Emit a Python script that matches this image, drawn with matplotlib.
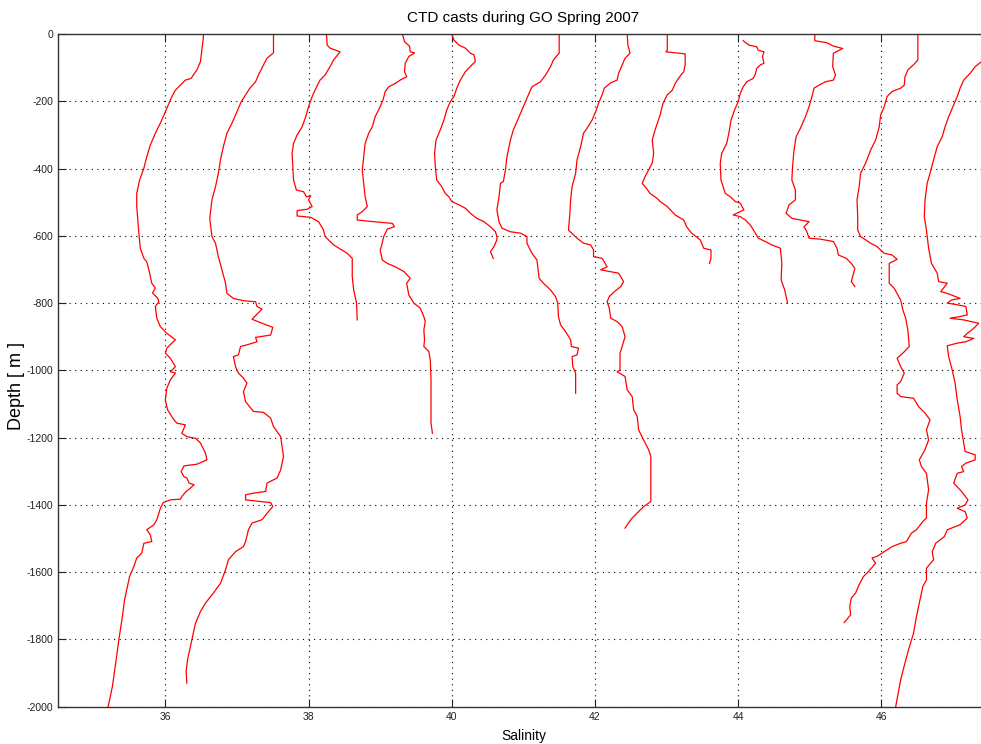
import numpy as np
import matplotlib
matplotlib.use('Agg')
import matplotlib.pyplot as plt
from matplotlib.pyplot import MultipleLocator

# CTD casts, (salinity, depth) pairs
cast1 = [(36.53,0),(36.53,-12),(36.49,-82),(36.44,-107),(36.39,-122),(36.36,-132),(36.28,-137),(36.21,-152),(36.14,-167),(36.09,-186),(36.05,-206),(36.00,-231),(35.93,-265),(35.86,-295),(35.79,-330),(35.74,-365),(35.70,-399),(35.64,-434),(35.60,-474),(35.60,-513),(35.63,-592),(35.65,-637),(35.70,-667),(35.74,-677),(35.77,-701),(35.81,-741),(35.86,-755),(35.82,-770),(35.89,-785),(35.91,-796),(35.86,-810),(35.88,-845),(35.93,-870),(36.02,-890),(36.14,-909),(36.02,-934),(36.00,-949),(36.07,-964),(36.14,-989),(36.07,-1004),(36.14,-1008),(36.07,-1028),(36.02,-1053),(36.00,-1088),(36.03,-1117),(36.12,-1147),(36.16,-1157),(36.28,-1162),(36.23,-1187),(36.30,-1197),(36.42,-1202),(36.49,-1216),(36.56,-1246),(36.58,-1266),(36.44,-1279),(36.26,-1284),(36.22,-1301),(36.26,-1316),(36.30,-1320),(36.33,-1335),(36.40,-1340),(36.35,-1350),(36.29,-1360),(36.23,-1375),(36.21,-1383),(36.07,-1385),(35.97,-1393),(35.93,-1410),(35.91,-1424),(35.88,-1444),(35.84,-1459),(35.74,-1474),(35.79,-1489),(35.81,-1509),(35.70,-1514),(35.67,-1543),(35.60,-1558),(35.56,-1583),(35.50,-1613),(35.47,-1643),(35.43,-1682),(35.40,-1732),(35.35,-1801),(35.30,-1880),(35.26,-1940),(35.20,-2000)]
cast2 = [(37.51,0),(37.51,-56),(37.42,-72),(37.37,-92),(37.30,-122),(37.26,-142),(37.18,-161),(37.12,-181),(37.06,-201),(37.00,-231),(36.93,-265),(36.86,-295),(36.81,-335),(36.77,-374),(36.74,-414),(36.70,-454),(36.65,-493),(36.62,-548),(36.65,-602),(36.70,-622),(36.74,-662),(36.79,-701),(36.84,-741),(36.86,-771),(36.95,-786),(37.09,-793),(37.26,-796),(37.28,-810),(37.35,-818),(37.21,-848),(37.35,-860),(37.50,-872),(37.47,-895),(37.26,-902),(37.28,-915),(37.14,-924),(37.05,-929),(37.02,-954),(36.95,-959),(36.98,-989),(37.02,-1008),(37.09,-1023),(37.14,-1038),(37.09,-1063),(37.12,-1093),(37.23,-1122),(37.37,-1125),(37.47,-1142),(37.51,-1167),(37.61,-1197),(37.63,-1227),(37.65,-1256),(37.61,-1296),(37.56,-1320),(37.42,-1335),(37.40,-1360),(37.23,-1365),(37.12,-1370),(37.12,-1385),(37.33,-1390),(37.47,-1393),(37.50,-1405),(37.42,-1425),(37.35,-1444),(37.21,-1454),(37.16,-1474),(37.12,-1509),(37.09,-1524),(36.98,-1539),(36.88,-1563),(36.84,-1593),(36.77,-1633),(36.67,-1662),(36.56,-1692),(36.49,-1717),(36.42,-1752),(36.37,-1801),(36.31,-1860),(36.29,-1895),(36.30,-1930)]
cast3 = [(38.25,0),(38.26,-33),(38.30,-42),(38.44,-53),(38.35,-77),(38.30,-97),(38.23,-122),(38.16,-137),(38.09,-167),(38.05,-186),(38.00,-216),(37.96,-246),(37.91,-276),(37.84,-300),(37.79,-325),(37.77,-355),(37.78,-394),(37.79,-434),(37.83,-464),(37.93,-469),(37.97,-484),(38.03,-481),(38.00,-493),(38.05,-513),(37.98,-521),(37.84,-525),(37.84,-541),(38.03,-545),(38.14,-558),(38.21,-583),(38.23,-602),(38.35,-627),(38.54,-652),(38.61,-667),(38.61,-721),(38.63,-761),(38.67,-800),(38.68,-850)]
cast4 = [(39.31,0),(39.32,-8),(39.34,-23),(39.41,-36),(39.42,-53),(39.48,-56),(39.40,-67),(39.35,-87),(39.34,-112),(39.37,-127),(39.28,-137),(39.21,-147),(39.12,-157),(39.07,-171),(39.04,-196),(39.00,-216),(38.93,-246),(38.89,-276),(38.84,-295),(38.79,-325),(38.77,-365),(38.75,-404),(38.77,-444),(38.79,-484),(38.82,-513),(38.75,-528),(38.68,-538),(38.68,-553),(38.91,-558),(39.17,-563),(39.20,-573),(39.10,-580),(39.05,-602),(39.01,-637),(39.00,-642),(39.03,-672),(39.10,-682),(39.21,-692),(39.33,-706),(39.42,-726),(39.37,-741),(39.40,-776),(39.47,-800),(39.56,-815),(39.61,-840),(39.63,-855),(39.61,-880),(39.62,-909),(39.61,-929),(39.68,-944),(39.70,-969),(39.71,-1028),(39.71,-1098),(39.71,-1157),(39.73,-1187)]
cast5 = [(40.00,0),(40.03,-18),(40.10,-33),(40.19,-42),(40.26,-57),(40.31,-62),(40.33,-82),(40.28,-92),(40.19,-112),(40.12,-137),(40.07,-161),(40.03,-186),(39.98,-201),(39.93,-226),(39.89,-256),(39.84,-285),(39.78,-315),(39.76,-355),(39.77,-394),(39.79,-434),(39.86,-454),(39.91,-474),(39.96,-484),(40.00,-498),(40.10,-508),(40.19,-518),(40.26,-533),(40.35,-548),(40.45,-558),(40.54,-573),(40.61,-588),(40.63,-602),(40.63,-612),(40.59,-632),(40.54,-647),(40.58,-667)]
cast6 = [(41.50,0),(41.50,-57),(41.42,-77),(41.38,-97),(41.31,-122),(41.24,-142),(41.12,-157),(41.07,-181),(41.00,-216),(40.93,-251),(40.86,-285),(40.82,-315),(40.77,-365),(40.75,-404),(40.72,-439),(40.68,-444),(40.66,-484),(40.63,-523),(40.66,-558),(40.70,-577),(40.82,-588),(40.96,-592),(41.05,-602),(41.05,-622),(41.12,-652),(41.19,-672),(41.22,-726),(41.28,-741),(41.38,-761),(41.45,-781),(41.48,-800),(41.49,-840),(41.52,-865),(41.59,-885),(41.66,-909),(41.67,-929),(41.77,-934),(41.75,-954),(41.68,-959),(41.69,-989),(41.73,-1008),(41.73,-1068)]
cast7 = [(42.45,0),(42.46,-33),(42.49,-57),(42.42,-72),(42.38,-92),(42.33,-117),(42.31,-137),(42.22,-145),(42.13,-161),(42.10,-181),(42.05,-206),(42.01,-231),(41.96,-256),(41.89,-280),(41.84,-295),(41.80,-335),(41.75,-374),(41.73,-414),(41.68,-454),(41.66,-493),(41.65,-533),(41.63,-583),(41.75,-607),(41.84,-622),(41.94,-627),(41.98,-642),(41.98,-662),(42.10,-667),(42.17,-692),(42.08,-701),(42.20,-706),(42.33,-711),(42.40,-736),(42.36,-751),(42.27,-766),(42.20,-781),(42.17,-796),(42.20,-815),(42.22,-845),(42.31,-855),(42.38,-870),(42.42,-900),(42.38,-929),(42.35,-949),(42.35,-999),(42.31,-1004),(42.42,-1018),(42.45,-1058),(42.52,-1078),(42.54,-1117),(42.59,-1137),(42.61,-1177),(42.68,-1207),(42.75,-1236),(42.78,-1256),(42.78,-1325),(42.78,-1390),(42.68,-1405),(42.59,-1424),(42.52,-1439),(42.45,-1459),(42.42,-1469)]
cast8 = [(43.01,0),(43.01,-48),(42.99,-53),(43.26,-59),(43.26,-92),(43.24,-112),(43.20,-122),(43.12,-147),(43.08,-167),(43.01,-181),(42.95,-206),(42.91,-241),(42.84,-285),(42.80,-315),(42.82,-355),(42.80,-384),(42.70,-424),(42.66,-444),(42.72,-459),(42.77,-474),(42.87,-489),(42.91,-498),(43.01,-513),(43.12,-538),(43.24,-553),(43.28,-573),(43.35,-592),(43.47,-612),(43.52,-637),(43.62,-642),(43.62,-667),(43.60,-682)]
cast9 = [(44.07,-20),(44.15,-33),(44.26,-38),(44.28,-48),(44.36,-53),(44.34,-67),(44.36,-87),(44.31,-92),(44.26,-102),(44.24,-119),(44.21,-132),(44.12,-142),(44.07,-157),(44.03,-176),(44.00,-201),(43.95,-226),(43.90,-256),(43.87,-295),(43.84,-325),(43.77,-355),(43.75,-384),(43.76,-434),(43.82,-474),(43.89,-484),(43.96,-498),(44.03,-503),(44.08,-523),(43.93,-538),(44.03,-543),(44.10,-553),(44.17,-568),(44.24,-592),(44.28,-607),(44.38,-617),(44.47,-627),(44.59,-637),(44.61,-682),(44.60,-731),(44.65,-761),(44.69,-800)]
cast10 = [(45.07,0),(45.07,-20),(45.24,-26),(45.33,-36),(45.46,-43),(45.33,-57),(45.32,-97),(45.36,-122),(45.33,-137),(45.22,-142),(45.13,-152),(45.06,-161),(45.03,-186),(44.99,-216),(44.94,-246),(44.87,-280),(44.81,-305),(44.78,-345),(44.76,-394),(44.75,-434),(44.80,-464),(44.80,-493),(44.71,-508),(44.67,-533),(44.75,-548),(44.87,-553),(44.99,-558),(44.92,-573),(44.96,-588),(44.99,-607),(45.15,-610),(45.33,-617),(45.38,-637),(45.40,-657),(45.51,-667),(45.58,-682),(45.63,-697),(45.60,-721),(45.58,-736),(45.63,-751)]
cast11 = [(46.51,0),(46.51,-77),(46.47,-87),(46.37,-107),(46.33,-127),(46.32,-152),(46.27,-161),(46.15,-171),(46.08,-186),(46.04,-216),(45.99,-241),(45.97,-276),(45.92,-315),(45.85,-345),(45.78,-384),(45.71,-414),(45.69,-454),(45.66,-493),(45.67,-543),(45.67,-583),(45.71,-602),(45.85,-622),(45.94,-632),(46.04,-652),(46.15,-657),(46.22,-670),(46.11,-682),(46.11,-741),(46.18,-756),(46.27,-791),(46.30,-820),(46.34,-845),(46.37,-880),(46.39,-929),(46.30,-949),(46.22,-964),(46.27,-989),(46.32,-1008),(46.27,-1033),(46.22,-1043),(46.22,-1068),(46.27,-1078),(46.45,-1083),(46.52,-1108),(46.61,-1127),(46.68,-1147),(46.63,-1177),(46.66,-1207),(46.61,-1236),(46.53,-1266),(46.56,-1286),(46.63,-1306),(46.66,-1355),(46.63,-1395),(46.63,-1439),(46.58,-1449),(46.49,-1474),(46.42,-1484),(46.35,-1509),(46.27,-1514),(46.15,-1524),(46.04,-1539),(45.94,-1553),(45.87,-1558),(45.92,-1573),(45.82,-1598),(45.75,-1613),(45.69,-1637),(45.64,-1662),(45.58,-1677),(45.56,-1702),(45.57,-1727),(45.48,-1750)]
cast12 = [(47.52,-62),(47.40,-82),(47.31,-97),(47.24,-117),(47.15,-137),(47.10,-161),(47.06,-186),(47.00,-216),(46.94,-246),(46.89,-276),(46.85,-305),(46.78,-335),(46.73,-374),(46.68,-414),(46.64,-444),(46.61,-493),(46.60,-543),(46.63,-583),(46.66,-637),(46.70,-682),(46.78,-711),(46.80,-736),(46.92,-741),(46.83,-766),(46.92,-771),(47.10,-786),(46.98,-791),(46.92,-800),(47.06,-805),(47.18,-810),(47.20,-835),(47.10,-840),(46.96,-845),(47.15,-850),(47.36,-860),(47.29,-875),(47.20,-890),(47.15,-900),(47.29,-905),(47.18,-915),(47.06,-919),(46.92,-927),(46.94,-959),(46.99,-999),(47.03,-1038),(47.06,-1088),(47.10,-1137),(47.12,-1177),(47.15,-1216),(47.17,-1241),(47.31,-1251),(47.31,-1266),(47.18,-1276),(47.12,-1286),(47.15,-1301),(47.06,-1306),(47.01,-1335),(47.12,-1360),(47.21,-1385),(47.17,-1400),(47.06,-1410),(47.17,-1420),(47.20,-1439),(47.10,-1459),(46.92,-1474),(46.88,-1494),(46.76,-1514),(46.71,-1539),(46.73,-1563),(46.63,-1588),(46.63,-1623),(46.58,-1642),(46.54,-1682),(46.49,-1732),(46.45,-1781),(46.38,-1830),(46.33,-1870),(46.27,-1920),(46.20,-2000)]

casts = [cast1, cast2, cast3, cast4, cast5, cast6, cast7, cast8, cast9, cast10, cast11, cast12]

plt.rcParams['font.family'] = ['Liberation Sans', 'DejaVu Sans']
plt.rcParams['axes.unicode_minus'] = False

fig = plt.figure(figsize=(9.81, 7.44), dpi=100)
# right edge of the axes sits just outside the picture, like the cropped original
ax = fig.add_axes([0.0591, 0.0501, 0.9488, 0.9042])

for c in casts:
    arr = np.array(c)
    ax.plot(arr[:, 0], arr[:, 1], color='red', lw=0.9)

ax.set_xlim(34.5, 47.5)
ax.set_ylim(-2000, 0)
ax.xaxis.set_major_locator(MultipleLocator(2))
ax.yaxis.set_major_locator(MultipleLocator(200))
ax.grid(True, linestyle=(0, (1, 4)), color='black', lw=0.8)
ax.tick_params(direction='in', length=6, width=0.8, top=True, right=True,
               labelsize=7.5, colors='#222222')
for sp in ax.spines.values():
    sp.set_color('#333333')
    sp.set_linewidth(1.0)

ax.set_title('CTD casts during GO Spring 2007', fontsize=11, pad=9)
ax.set_xlabel('Salinity', fontsize=10, labelpad=5)
ax.set_ylabel('Depth [ m ]', fontsize=13)
ax.yaxis.set_label_coords(-0.0355, 0.477)

plt.savefig('out.png', dpi=100)
